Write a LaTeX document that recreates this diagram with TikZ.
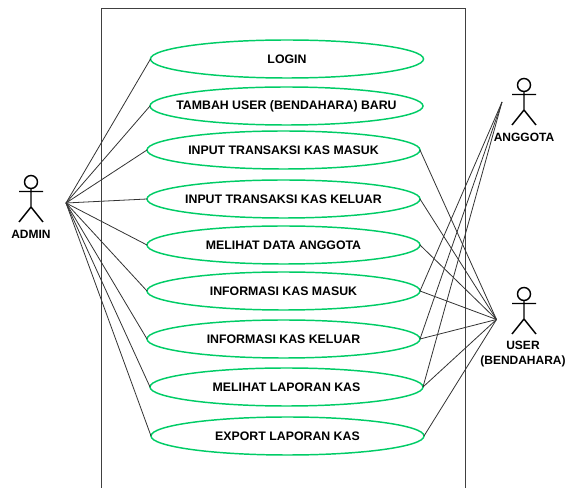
\documentclass[tikz,border=0pt]{standalone}
\usepackage{fontspec}
\setmainfont{Liberation Sans}
\usetikzlibrary{shapes.geometric}
\definecolor{ucgreen}{HTML}{00CC66}
\definecolor{wire}{HTML}{333333}
\tikzset{
  uc/.style={draw=ucgreen,line width=1.1pt,ellipse,minimum width=273*0.75pt,minimum height=38*0.75pt,inner sep=0pt,outer sep=0pt,font=\fontsize{9.25}{10.5}\selectfont\bfseries},
  tag/.style={font=\fontsize{9}{11.25}\selectfont\bfseries,align=center,inner sep=0pt},
  wireline/.style={draw=wire,line width=0.6pt},
  frameline/.style={draw=black!75,line width=0.75pt},
  actor/.pic={
    \draw[black,line width=1.1pt] (0,0) circle (6.5);
    \draw[black,line width=1.1pt] (0,6.5) -- (0,25) (-12,9.5) -- (12,9.5) (-12,40) -- (0,25) -- (12,40);
  }
}
\begin{document}
\begin{tikzpicture}[x=0.75pt,y=-0.75pt]
\useasboundingbox (0,0) rectangle (565,488);
\draw[frameline] (101,488) -- (101,8.5) -- (465.5,8.5) -- (465.5,488);
\node[uc] (login) at (287,59) {\makebox[0pt]{LOGIN}};
\node[uc] (tambah) at (286.5,106) {\makebox[0pt]{TAMBAH USER (BENDAHARA) BARU}};
\node[uc] (masuk) at (283.5,150) {\makebox[0pt]{INPUT TRANSAKSI KAS MASUK}};
\node[uc] (keluar) at (283.5,199) {\makebox[0pt]{INPUT TRANSAKSI KAS KELUAR}};
\node[uc] (data) at (283.5,245) {\makebox[0pt]{MELIHAT DATA ANGGOTA}};
\node[uc] (imasuk) at (283.5,291) {\makebox[0pt]{INFORMASI KAS MASUK}};
\node[uc] (ikeluar) at (283.5,339) {\makebox[0pt]{INFORMASI KAS KELUAR}};
\node[uc] (laporan) at (286.5,387) {\makebox[0pt]{MELIHAT LAPORAN KAS}};
\node[uc] (export) at (287.5,436) {\makebox[0pt]{EXPORT LAPORAN KAS}};
\pic at (31,182) {actor};
\pic at (524,85) {actor};
\pic at (524,294) {actor};
\node[tag] (ladmin) at (31,234) {ADMIN};
\node[tag] (langgota) at (524,137.5) {ANGGOTA};
\node[tag] (luser) at (523,354.5) {USER\\(BENDAHARA)};
\coordinate (admin) at (66,203);
\coordinate (anggota) at (502,102);
\coordinate (user) at (496.5,319.5);
\foreach \u in {login,tambah,masuk,keluar,data,imasuk,ikeluar,laporan,export}
  \draw[wireline] (admin) -- (\u.west);
\foreach \u in {imasuk,ikeluar,laporan}
  \draw[wireline] (anggota) -- (\u.east);
\foreach \u in {masuk,keluar,data,imasuk,ikeluar,laporan,export}
  \draw[wireline] (user) -- (\u.east);
\end{tikzpicture}
\end{document}
